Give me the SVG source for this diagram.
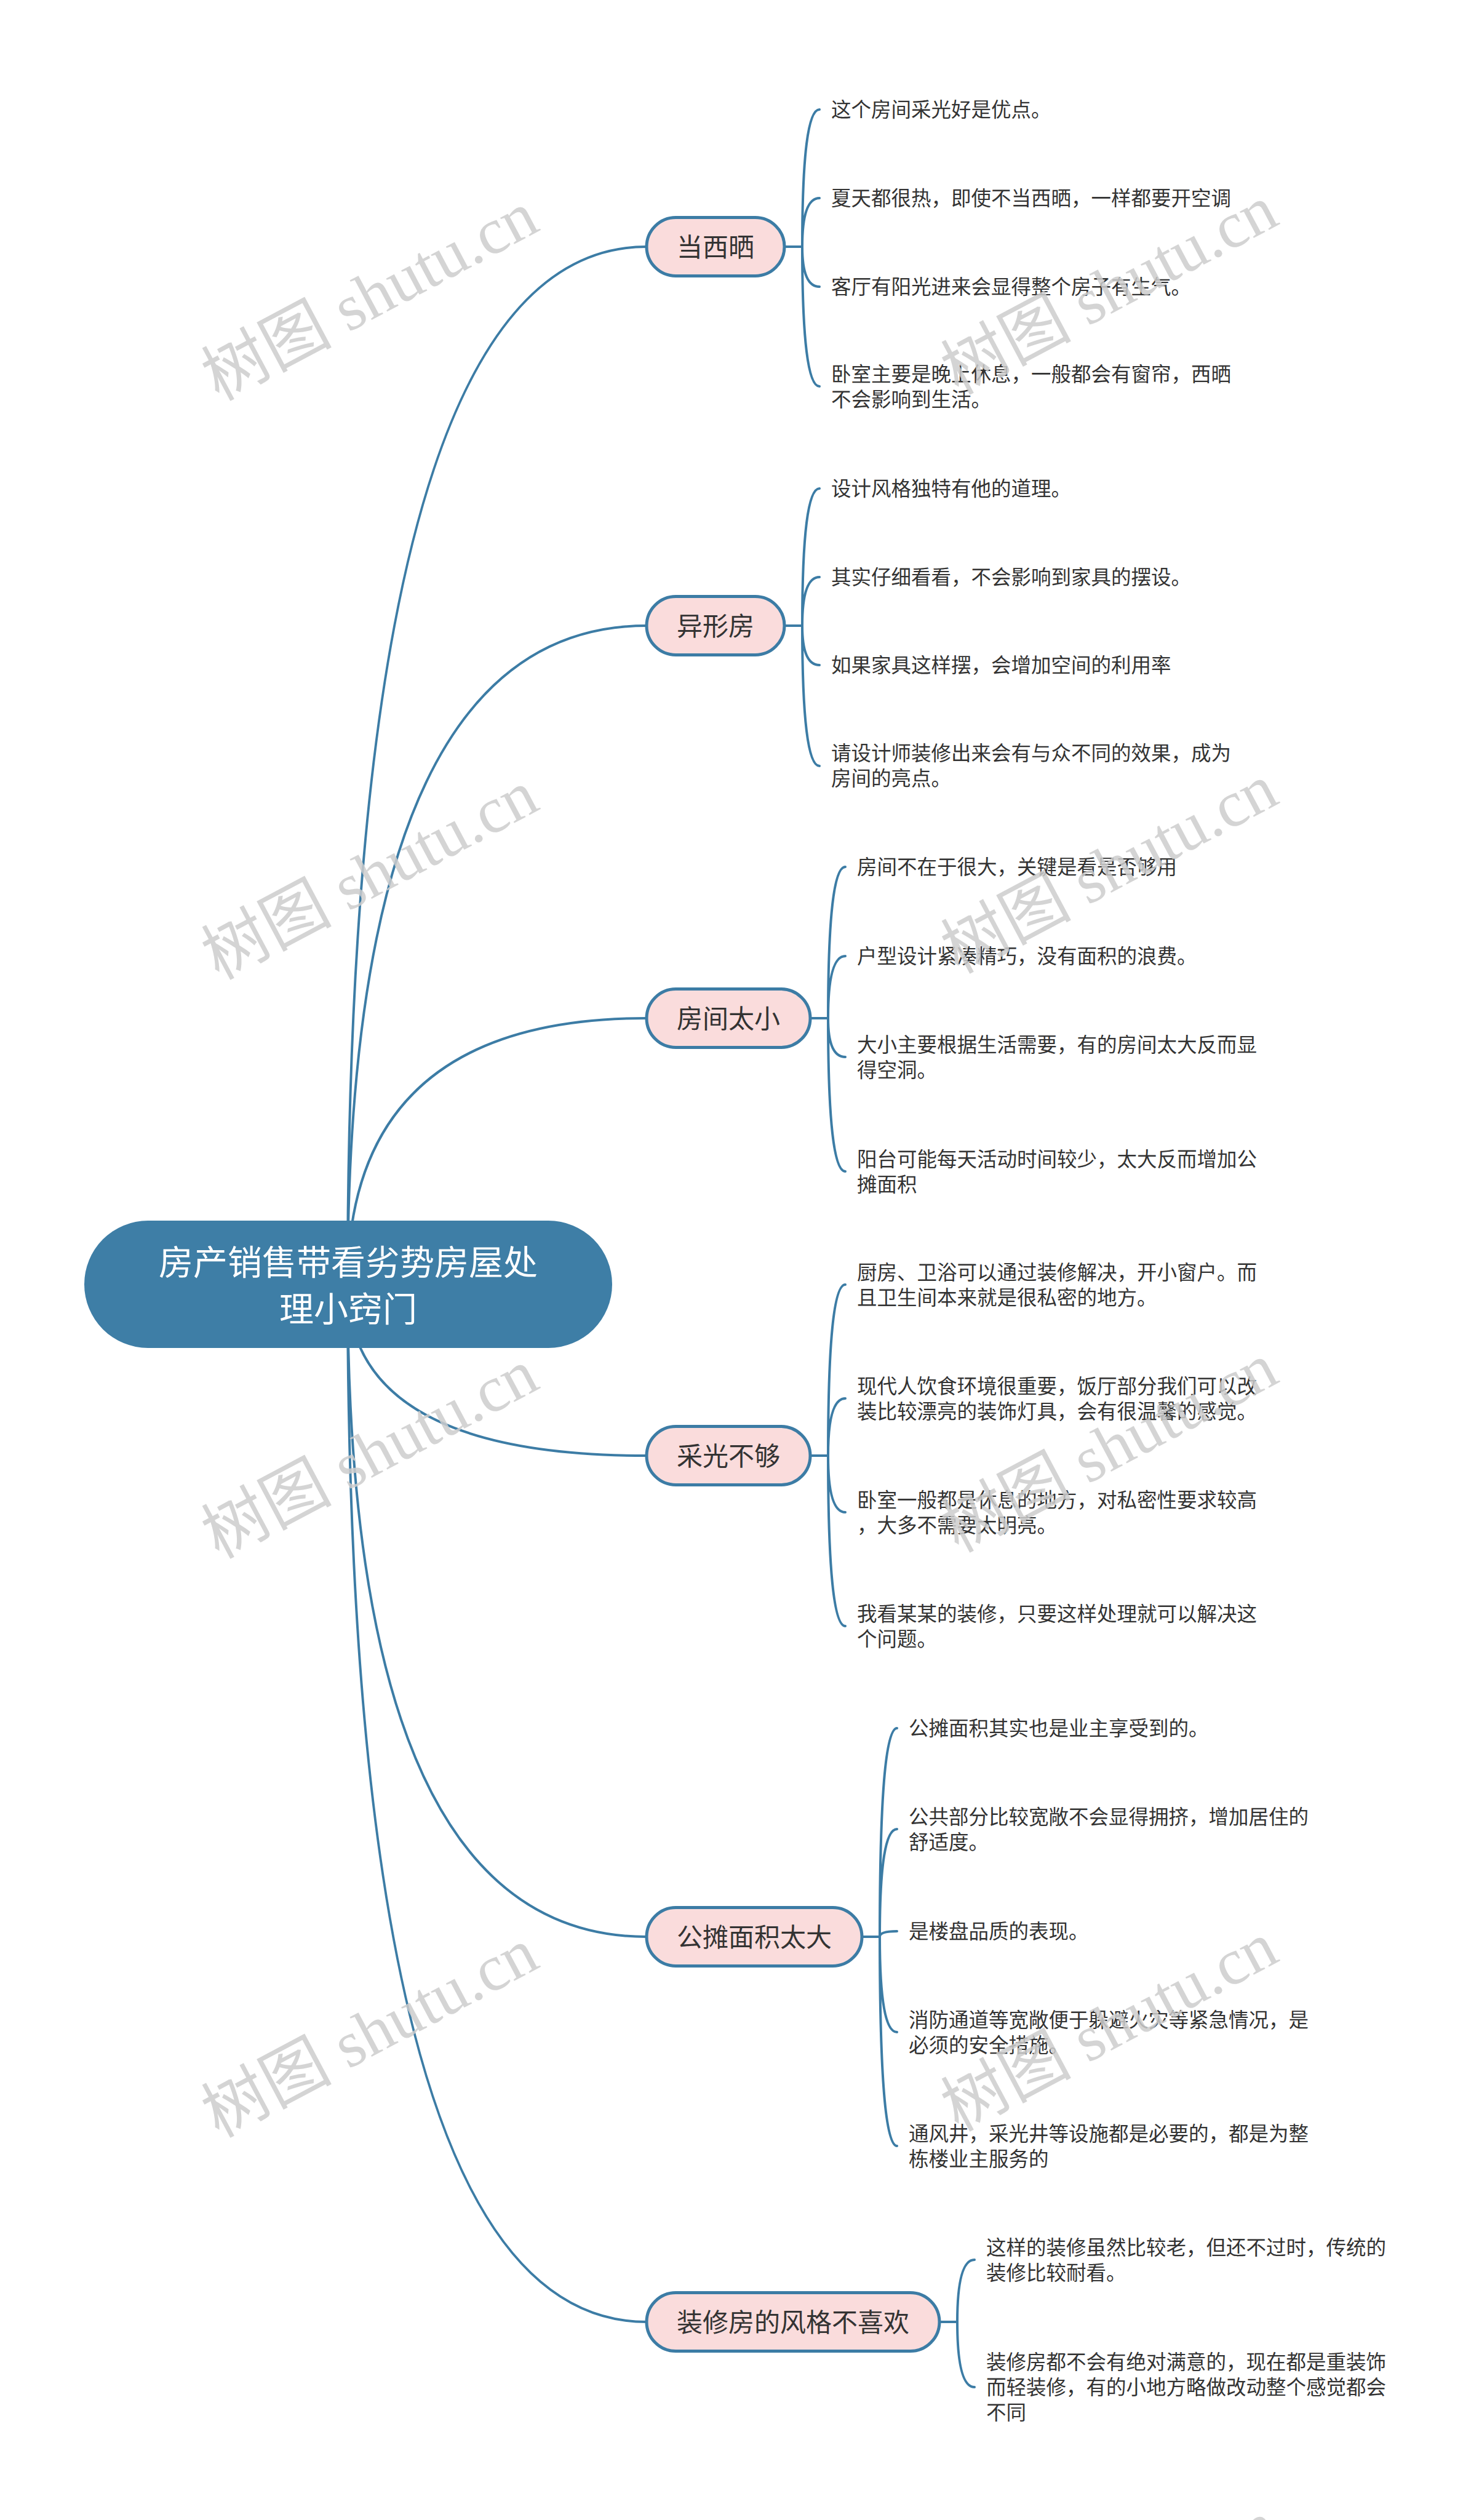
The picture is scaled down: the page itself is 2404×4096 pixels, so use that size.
<svg xmlns="http://www.w3.org/2000/svg" width="2404" height="4096" viewBox="0 0 2404 4096">
<style>
text{font-family:"Noto Sans CJK SC","Noto Sans",sans-serif}
.bg{fill:#ffffff}
.conn{fill:none;stroke:#3c7ca5;stroke-width:4;stroke-linecap:round}
.root rect{fill:#3e7ea6}
.root text{fill:#ffffff;font-size:56px;text-anchor:middle}
.topic rect{fill:#fadcdc;stroke:#3c7ca5;stroke-width:5}
.topic text{fill:#333333;font-size:42px;text-anchor:middle}
.leaf text{fill:#333333;font-size:32.5px}
.wm text{font-family:"Liberation Serif","Noto Sans CJK SC",serif;font-size:106px;fill:#cccccc;fill-opacity:0.85;text-anchor:middle}
</style>
<rect class="bg" x="0" y="0" width="2404" height="4096"/>
<g id="connectors">
<path class="conn" d="M565,2088 Q565,401 1051,401"/>
<path class="conn" d="M565,2088 Q565,1017 1051,1017"/>
<path class="conn" d="M565,2088 Q565,1655 1051,1655"/>
<path class="conn" d="M565,2088 Q565,2366 1051,2366"/>
<path class="conn" d="M565,2088 Q565,3148 1051,3148"/>
<path class="conn" d="M565,2088 Q565,3774 1051,3774"/>
<path class="conn" d="M1275,401 H1304 M1304,401 Q1304,178 1332,178 M1304,401 Q1304,322 1332,322 M1304,401 Q1304,466 1332,466 M1304,401 Q1304,628 1332,628"/>
<path class="conn" d="M1275,1017 H1304 M1304,1017 Q1304,794 1332,794 M1304,1017 Q1304,938 1332,938 M1304,1017 Q1304,1081 1332,1081 M1304,1017 Q1304,1245 1332,1245"/>
<path class="conn" d="M1317,1655 H1346 M1346,1655 Q1346,1409 1374,1409 M1346,1655 Q1346,1554 1374,1554 M1346,1655 Q1346,1718 1374,1718 M1346,1655 Q1346,1904 1374,1904"/>
<path class="conn" d="M1317,2366 H1346 M1346,2366 Q1346,2088 1374,2088 M1346,2366 Q1346,2273 1374,2273 M1346,2366 Q1346,2458 1374,2458 M1346,2366 Q1346,2643 1374,2643"/>
<path class="conn" d="M1401,3148 H1430 M1430,3148 Q1430,2809 1458,2809 M1430,3148 Q1430,2973 1458,2973 M1430,3148 Q1430,3139 1458,3139 M1430,3148 Q1430,3303 1458,3303 M1430,3148 Q1430,3488 1458,3488"/>
<path class="conn" d="M1527,3774 H1556 M1556,3774 Q1556,3673 1584,3673 M1556,3774 Q1556,3880 1584,3880"/>
</g>
<g id="root" class="root">
<rect x="137" y="1984" width="858" height="207" rx="103.5"/>
<text x="566" y="2072">房产销售带看劣势房屋处</text>
<text x="566" y="2148">理小窍门</text>
</g>
<g id="topic-1" class="topic"><rect x="1051" y="353.5" width="224" height="95" rx="47.5"/><text x="1163" y="417">当西晒</text></g>
<g id="topic-2" class="topic"><rect x="1051" y="969.5" width="224" height="95" rx="47.5"/><text x="1163" y="1033">异形房</text></g>
<g id="topic-3" class="topic"><rect x="1051" y="1607.5" width="266" height="95" rx="47.5"/><text x="1184" y="1671">房间太小</text></g>
<g id="topic-4" class="topic"><rect x="1051" y="2318.5" width="266" height="95" rx="47.5"/><text x="1184" y="2382">采光不够</text></g>
<g id="topic-5" class="topic"><rect x="1051" y="3100.5" width="350" height="95" rx="47.5"/><text x="1226" y="3164">公摊面积太大</text></g>
<g id="topic-6" class="topic"><rect x="1051" y="3726.5" width="476" height="95" rx="47.5"/><text x="1289" y="3790">装修房的风格不喜欢</text></g>
<g id="leaf-1-1" class="leaf"><text x="1351" y="190">这个房间采光好是优点。</text></g>
<g id="leaf-1-2" class="leaf"><text x="1351" y="334">夏天都很热，即使不当西晒，一样都要开空调</text></g>
<g id="leaf-1-3" class="leaf"><text x="1351" y="478">客厅有阳光进来会显得整个房子有生气。</text></g>
<g id="leaf-1-4" class="leaf"><text x="1351" y="620">卧室主要是晚上休息，一般都会有窗帘，西晒</text><text x="1351" y="661">不会影响到生活。</text></g>
<g id="leaf-2-1" class="leaf"><text x="1351" y="806">设计风格独特有他的道理。</text></g>
<g id="leaf-2-2" class="leaf"><text x="1351" y="950">其实仔细看看，不会影响到家具的摆设。</text></g>
<g id="leaf-2-3" class="leaf"><text x="1351" y="1093">如果家具这样摆，会增加空间的利用率</text></g>
<g id="leaf-2-4" class="leaf"><text x="1351" y="1236">请设计师装修出来会有与众不同的效果，成为</text><text x="1351" y="1277">房间的亮点。</text></g>
<g id="leaf-3-1" class="leaf"><text x="1393" y="1421">房间不在于很大，关键是看是否够用</text></g>
<g id="leaf-3-2" class="leaf"><text x="1393" y="1566">户型设计紧凑精巧，没有面积的浪费。</text></g>
<g id="leaf-3-3" class="leaf"><text x="1393" y="1710">大小主要根据生活需要，有的房间太大反而显</text><text x="1393" y="1751">得空洞。</text></g>
<g id="leaf-3-4" class="leaf"><text x="1393" y="1896">阳台可能每天活动时间较少，太大反而增加公</text><text x="1393" y="1937">摊面积</text></g>
<g id="leaf-4-1" class="leaf"><text x="1393" y="2080">厨房、卫浴可以通过装修解决，开小窗户。而</text><text x="1393" y="2121">且卫生间本来就是很私密的地方。</text></g>
<g id="leaf-4-2" class="leaf"><text x="1393" y="2265">现代人饮食环境很重要，饭厅部分我们可以改</text><text x="1393" y="2306">装比较漂亮的装饰灯具，会有很温馨的感觉。</text></g>
<g id="leaf-4-3" class="leaf"><text x="1393" y="2450">卧室一般都是休息的地方，对私密性要求较高</text><text x="1393" y="2491">，大多不需要太明亮。</text></g>
<g id="leaf-4-4" class="leaf"><text x="1393" y="2635">我看某某的装修，只要这样处理就可以解决这</text><text x="1393" y="2676">个问题。</text></g>
<g id="leaf-5-1" class="leaf"><text x="1477" y="2821">公摊面积其实也是业主享受到的。</text></g>
<g id="leaf-5-2" class="leaf"><text x="1477" y="2965">公共部分比较宽敞不会显得拥挤，增加居住的</text><text x="1477" y="3006">舒适度。</text></g>
<g id="leaf-5-3" class="leaf"><text x="1477" y="3151">是楼盘品质的表现。</text></g>
<g id="leaf-5-4" class="leaf"><text x="1477" y="3295">消防通道等宽敞便于躲避火灾等紧急情况，是</text><text x="1477" y="3336">必须的安全措施。</text></g>
<g id="leaf-5-5" class="leaf"><text x="1477" y="3480">通风井，采光井等设施都是必要的，都是为整</text><text x="1477" y="3521">栋楼业主服务的</text></g>
<g id="leaf-6-1" class="leaf"><text x="1603" y="3665">这样的装修虽然比较老，但还不过时，传统的</text><text x="1603" y="3706">装修比较耐看。</text></g>
<g id="leaf-6-2" class="leaf"><text x="1603" y="3851">装修房都不会有绝对满意的，现在都是重装饰</text><text x="1603" y="3892">而轻装修，有的小地方略做改动整个感觉都会</text><text x="1603" y="3933">不同</text></g>
<g id="watermarks" class="wm">
<text transform="translate(601,481) rotate(-28)" x="0" y="36">树图 shutu.cn</text>
<text transform="translate(1803,471) rotate(-28)" x="0" y="36">树图 shutu.cn</text>
<text transform="translate(601,1422) rotate(-28)" x="0" y="36">树图 shutu.cn</text>
<text transform="translate(1803,1412) rotate(-28)" x="0" y="36">树图 shutu.cn</text>
<text transform="translate(601,2363) rotate(-28)" x="0" y="36">树图 shutu.cn</text>
<text transform="translate(1803,2353) rotate(-28)" x="0" y="36">树图 shutu.cn</text>
<text transform="translate(601,3304) rotate(-28)" x="0" y="36">树图 shutu.cn</text>
<text transform="translate(1803,3294) rotate(-28)" x="0" y="36">树图 shutu.cn</text>
<text transform="translate(601,4245) rotate(-28)" x="0" y="36">树图 shutu.cn</text>
<text transform="translate(1803,4235) rotate(-28)" x="0" y="36">树图 shutu.cn</text>
</g>
</svg>
